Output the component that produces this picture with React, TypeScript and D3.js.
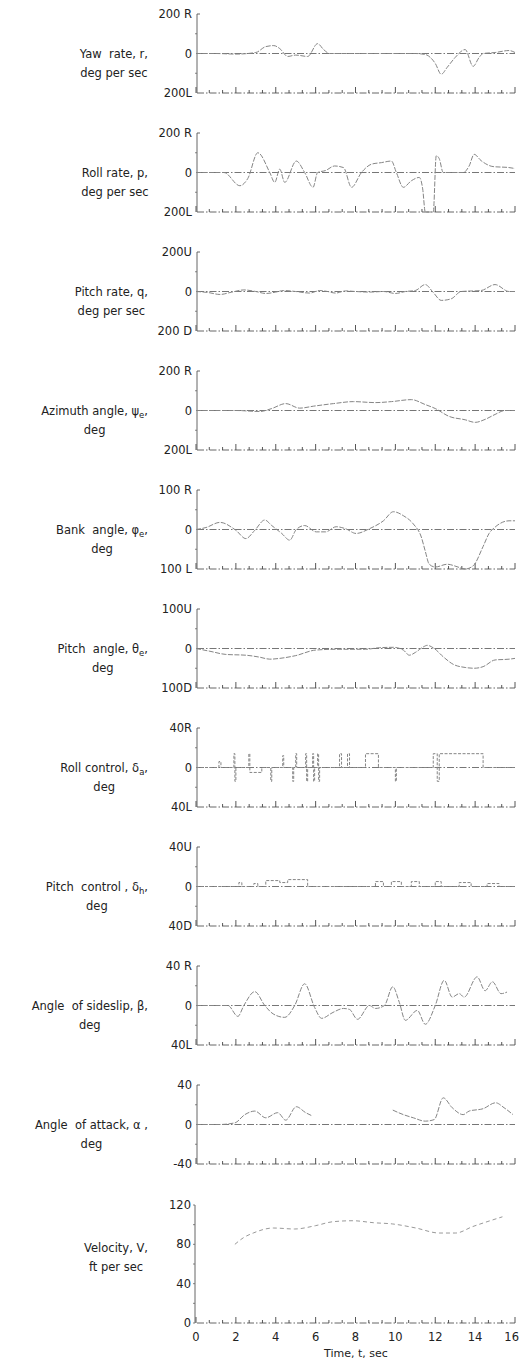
import React, { useEffect, useRef } from "react";
import * as d3 from "d3";

type Pt = [number, number | null];

// Time axis (seconds)
const timeTicks = [0, 2, 4, 6, 8, 10, 12, 14, 16];
const timeLabels = ["0", "2", "4", "6", "8", "10", "12", "14", "16"];

// Yaw rate r, deg/sec
const yawRate: Pt[] = [
  [0, 0], [1, 0], [2, -3], [3, 5], [3.5, 35], [3.9, 40], [4.2, 25], [4.6, -15], [5.0, -8],
  [5.6, -15], [6.1, 50], [6.4, 20], [6.7, 0], [9.5, 0], [11, 0], [11.5, -5], [12, -50],
  [12.3, -105], [12.6, -70], [13.0, -20], [13.5, 20], [13.9, -65], [14.2, -20], [14.4, 0],
  [15, 5], [15.7, 15], [16, 5],
];

// Roll rate p, deg/sec
const rollRate: Pt[] = [
  [0, 0], [1.4, 0], [2.2, -67], [2.6, -30], [3.1, 100], [3.7, 0], [3.95, -50], [4.2, 17],
  [4.45, -50], [5.03, 58], [5.45, 0], [5.87, -75], [6.1, 0], [6.5, 10], [6.95, 33], [7.4, 25],
  [7.8, -75], [8.3, 0], [8.8, 42], [9.3, 50], [9.8, 58], [10.05, 0], [10.4, -75], [10.8, -42],
  [11.2, -25], [11.37, -83], [11.5, -200], [11.9, -200], [12.05, 85], [12.2, 70], [12.4, 0],
  [13.4, 0], [13.7, 33], [13.95, 92], [14.3, 60], [14.9, 30], [15.7, 25], [16, 20],
];

// Pitch rate q, deg/sec
const pitchRate: Pt[] = [
  [0, 0], [0.6, -5], [1.2, -15], [1.8, -3], [2.4, 8], [3.0, 0], [3.5, -10], [4.0, -3], [4.4, 5],
  [5.0, 0], [5.7, -8], [6.2, 5], [6.6, 0], [7.0, -8], [7.5, 3], [8.0, 0], [8.7, -3], [9.4, 0],
  [10.0, -10], [10.5, 0], [11.0, 5], [11.5, 35], [11.9, -5], [12.3, -45], [12.8, -37], [13.3, 0],
  [14.3, 5], [15.0, 35], [15.7, 0], [16, 0],
];

// Azimuth angle psi_e, deg
const azimuth: Pt[] = [
  [0, 0], [2, 0], [3.2, -5], [3.8, 10], [4.5, 35], [5.2, 12], [5.9, 22], [6.9, 35], [7.9, 45],
  [9.0, 40], [9.8, 45], [10.8, 55], [11.5, 30], [12.0, 10], [12.7, -30], [13.5, -47], [14.0, -60],
  [14.5, -45], [15.0, -20], [15.5, 0], [16, 0],
];

// Bank angle phi_e, deg
const bankAngle: Pt[] = [
  [0, 0], [0.5, 5], [1.2, 18], [2.0, -2], [2.5, -23], [2.95, -2], [3.45, 24], [3.8, 10],
  [4.3, -10], [4.7, -27], [5.03, 0], [5.45, 10], [6.03, -6], [6.5, -6], [7.03, 7], [7.5, 2],
  [8.03, -10], [8.7, 2], [9.4, 22], [9.9, 45], [10.4, 35], [10.9, 14], [11.3, -19], [11.5, -55],
  [11.7, -88], [12.0, -95], [12.6, -88], [13.2, -96], [13.5, -100], [13.9, -92], [14.4, -43],
  [14.7, -10], [15.0, 6], [15.7, 22], [16, 22],
];

// Pitch angle theta_e, deg
const pitchAngle: Pt[] = [
  [0, 0], [0.7, -7], [1.5, -15], [2.5, -17], [3.2, -22], [3.7, -27], [4.2, -25], [5.0, -18],
  [6.0, -4], [7.0, -2], [8.5, -2], [9.2, 2], [9.9, 3], [10.4, -4], [10.7, -17], [11.0, -10],
  [11.4, 4], [11.6, 8], [11.95, 0], [12.4, -21], [12.9, -40], [13.5, -48], [13.95, -50],
  [14.4, -46], [15.0, -29], [15.7, -27], [16, -25],
];

// Roll control delta_a, deg (stepped)
const rollControl: Pt[] = [
  [0, 0], [1.15, 6], [1.25, 0], [1.9, 14], [1.95, -14], [2.0, 0], [2.65, 14], [2.7, -5],
  [3.3, 0], [3.75, -14], [3.8, 0], [4.35, 12], [4.4, 0], [4.85, -14], [4.9, 0], [5.0, 14],
  [5.05, 0], [5.5, 14], [5.55, -14], [5.6, 0], [5.85, 14], [5.9, -14], [5.95, 0], [6.1, 14],
  [6.15, -14], [6.2, 0], [7.2, 14], [7.3, 0], [7.6, 14], [7.7, 0], [8.5, 14], [9.15, 0],
  [10.0, -14], [10.05, 0], [11.9, 14], [12.1, -14], [12.2, 14], [14.4, 0], [16, 0],
];

// Pitch control delta_h, deg (stepped)
const pitchControl: Pt[] = [
  [0, 0], [2.15, 4], [2.3, 0], [2.9, 3], [3.1, 0], [3.5, 6], [4.2, 4], [4.6, 7], [5.6, 0],
  [9.0, 5], [9.4, 0], [9.8, 5], [10.3, 0], [10.8, 5], [11.2, 0], [12.0, 5], [12.3, 0],
  [13.2, 4], [13.8, 0], [14.6, 3], [15.2, 0], [16, 0],
];

// Angle of sideslip beta, deg
const sideslip: Pt[] = [
  [0, 0], [1.6, 0], [2.1, -11], [2.4, 0], [2.95, 14], [3.45, 0], [3.87, -8.5], [4.45, -12],
  [4.95, 0], [5.45, 22], [5.95, -2], [6.3, -13], [6.87, -7], [7.4, -3], [7.7, -4], [8.1, -14],
  [8.7, 0], [9.0, -3], [9.45, 0], [9.87, 19], [10.2, 3], [10.5, -15], [11.1, -5], [11.5, -19],
  [12.0, 0], [12.45, 25.5], [12.85, 8.5], [13.2, 12], [13.45, 8.5], [14.1, 29], [14.5, 15],
  [14.87, 24], [15.3, 12], [15.6, 13.6],
];

// Angle of attack alpha, deg (trace lost between about 6 and 9.8 sec)
const angleOfAttack: Pt[] = [
  [0, 0], [1.2, 0], [1.95, 1.7], [2.45, 10], [2.95, 13.6], [3.5, 6.8], [4.1, 12], [4.5, 4.4],
  [5.03, 18], [5.5, 12], [5.8, 9], [7.5, null], [9.87, 14.6], [10.4, 10], [10.9, 6.8],
  [11.5, 3.4], [11.95, 5], [12.4, 27], [12.85, 17], [13.4, 10], [13.7, 13.6], [14.4, 16],
  [15.03, 22], [15.45, 17], [15.9, 10],
];

// Velocity V, ft/sec
const velocity: Pt[] = [
  [1.95, 80], [2.4, 87], [2.87, 91.5], [3.87, 96.6], [4.95, 95.6], [6.0, 99], [6.87, 103],
  [7.87, 104], [8.9, 102], [9.87, 100.7], [11.03, 96.6], [12.2, 91.5], [13.03, 91.5],
  [13.87, 98], [14.6, 103], [15.37, 108],
];

type Seg = { t: string; sub?: boolean };
type Panel = {
  line1: Seg[];
  line2: string;
  topLabel: string;
  midLabel: string;
  bottomLabel: string;
  domain: [number, number];
  data: Pt[];
  stepped?: boolean;
  zeroLine: boolean;
};

const panels: Panel[] = [
  { line1: [{ t: "Yaw  rate, r," }], line2: "deg per sec", topLabel: "200 R", midLabel: "0", bottomLabel: "200L", domain: [-200, 200], data: yawRate, zeroLine: true },
  { line1: [{ t: "Roll rate, p," }], line2: "deg per sec", topLabel: "200 R", midLabel: "0", bottomLabel: "200L", domain: [-200, 200], data: rollRate, zeroLine: true },
  { line1: [{ t: "Pitch rate, q," }], line2: "deg per sec", topLabel: "200U", midLabel: "0", bottomLabel: "200 D", domain: [-200, 200], data: pitchRate, zeroLine: true },
  { line1: [{ t: "Azimuth angle, ψ" }, { t: "e", sub: true }, { t: "," }], line2: "deg", topLabel: "200 R", midLabel: "0", bottomLabel: "200L", domain: [-200, 200], data: azimuth, zeroLine: true },
  { line1: [{ t: "Bank  angle, φ" }, { t: "e", sub: true }, { t: "," }], line2: "deg", topLabel: "100 R", midLabel: "0", bottomLabel: "100 L", domain: [-100, 100], data: bankAngle, zeroLine: true },
  { line1: [{ t: "Pitch  angle, θ" }, { t: "e", sub: true }, { t: "," }], line2: "deg", topLabel: "100U", midLabel: "0", bottomLabel: "100D", domain: [-100, 100], data: pitchAngle, zeroLine: true },
  { line1: [{ t: "Roll control, δ" }, { t: "a", sub: true }, { t: "," }], line2: "deg", topLabel: "40R", midLabel: "0", bottomLabel: "40L", domain: [-40, 40], data: rollControl, stepped: true, zeroLine: true },
  { line1: [{ t: "Pitch  control , δ" }, { t: "h", sub: true }, { t: "," }], line2: "deg", topLabel: "40U", midLabel: "0", bottomLabel: "40D", domain: [-40, 40], data: pitchControl, stepped: true, zeroLine: true },
  { line1: [{ t: "Angle  of sideslip, β," }], line2: "deg", topLabel: "40 R", midLabel: "0", bottomLabel: "40L", domain: [-40, 40], data: sideslip, zeroLine: true },
  { line1: [{ t: "Angle  of attack, α ," }], line2: "deg", topLabel: "40", midLabel: "0", bottomLabel: "-40", domain: [-40, 40], data: angleOfAttack, zeroLine: true },
];

const velocityTicks = [0, 40, 80, 120];

const FONT = "'DejaVu Sans', sans-serif";
const INK = "#222";
const TRACE = "#858585";

export default function App() {
  const ref = useRef<SVGSVGElement>(null);

  useEffect(() => {
    const svg = d3.select(ref.current);
    svg.selectAll("*").remove();
    const g = svg.append("g").attr("font-family", FONT).attr("fill", INK);

    const axisX = 197;
    const x = d3.scaleLinear().domain([0, 16]).range([196, 515]);
    const tickTimes = d3.range(0, 16.001, 2 / 3);
    const labelRight = 148;

    const drawBottomAxis = (yb: number) => {
      g.append("line")
        .attr("x1", axisX).attr("x2", x(16)).attr("y1", yb).attr("y2", yb)
        .attr("stroke", "#555").attr("stroke-width", 0.9)
        .attr("stroke-dasharray", "7 2 1.5 2");
      g.selectAll(null).data(tickTimes).enter().append("line")
        .attr("x1", (d) => x(d)).attr("x2", (d) => x(d))
        .attr("y1", yb)
        .attr("y2", (d, i) => yb - (i % 3 === 0 ? 6 : 3))
        .attr("stroke", "#444").attr("stroke-width", 0.9);
    };

    const drawLeftLabel = (line1: Seg[], line2: string, y1: number) => {
      const t1 = g.append("text").attr("x", labelRight).attr("y", y1)
        .attr("text-anchor", "end").attr("font-size", 11.5);
      line1.forEach((s) => {
        const ts = t1.append("tspan").text(s.t);
        if (s.sub) ts.attr("font-size", 8.5).attr("baseline-shift", "-3");
      });
      t1.attr("xml:space", "preserve").style("white-space", "pre");
      const w = (t1.node() as SVGTextElement).getComputedTextLength();
      g.append("text").attr("x", labelRight - w / 2).attr("y", y1 + 19)
        .attr("text-anchor", "middle").attr("font-size", 11.5).text(line2);
    };

    const line = d3.line<Pt>()
      .defined((d) => d[1] !== null)
      .x((d) => x(d[0]));

    panels.forEach((p, i) => {
      const top = 14 + 119 * i;
      const bottom = top + 79;
      const y = d3.scaleLinear().domain(p.domain).range([bottom, top]);
      const mid = y(0);

      // vertical axis with small marks
      g.append("line").attr("x1", axisX).attr("x2", axisX).attr("y1", top).attr("y2", bottom)
        .attr("stroke", "#555").attr("stroke-width", 0.9);
      g.append("line").attr("x1", axisX).attr("x2", axisX + 3).attr("y1", top).attr("y2", top)
        .attr("stroke", "#555").attr("stroke-width", 0.9);
      [p.domain[0] / 2, p.domain[1] / 2].forEach((v) => {
        g.append("line").attr("x1", axisX - 2).attr("x2", axisX).attr("y1", y(v)).attr("y2", y(v))
          .attr("stroke", "#666").attr("stroke-width", 0.8);
      });

      if (p.zeroLine) {
        g.append("line").attr("x1", axisX).attr("x2", x(16)).attr("y1", mid).attr("y2", mid)
          .attr("stroke", "#666").attr("stroke-width", 0.9)
          .attr("stroke-dasharray", "7 2 1.5 2");
      }
      drawBottomAxis(bottom);

      // scale labels
      [[p.topLabel, top], [p.midLabel, mid], [p.bottomLabel, bottom]].forEach(([s, yy]) => {
        g.append("text").attr("x", 192).attr("y", (yy as number) + 4)
          .attr("text-anchor", "end").attr("font-size", 11.5)
          .style("white-space", "pre").text(s as string);
      });

      drawLeftLabel(p.line1, p.line2, mid + 4);

      // trace
      const ln = line.y((d) => y(d[1] as number))
        .curve(p.stepped ? d3.curveStepAfter : d3.curveMonotoneX);
      g.append("path").attr("d", ln(p.data) as string)
        .attr("fill", "none").attr("stroke", TRACE).attr("stroke-width", 1)
        .attr("stroke-dasharray", p.stepped ? "3 1.5" : "5 1.5");
    });

    // Velocity panel
    const vTop = 1205;
    const vBottom = 1323;
    const yv = d3.scaleLinear().domain([0, 120]).range([vBottom, vTop]);
    g.append("line").attr("x1", axisX - 2).attr("x2", axisX - 2).attr("y1", vTop).attr("y2", vBottom)
      .attr("stroke", "#555").attr("stroke-width", 0.9);
    d3.range(0, 121, 20).forEach((v) => {
      g.append("line").attr("x1", axisX - 4).attr("x2", axisX - 2).attr("y1", yv(v)).attr("y2", yv(v))
        .attr("stroke", "#666").attr("stroke-width", 0.8);
    });
    drawBottomAxis(vBottom);
    velocityTicks.forEach((v) => {
      g.append("text").attr("x", 191).attr("y", yv(v) + 4)
        .attr("text-anchor", "end").attr("font-size", 11.5).text(String(v));
    });
    drawLeftLabel([{ t: "Velocity, V," }], "ft per sec", 1252);
    const vl = d3.line<Pt>().defined((d) => d[1] !== null)
      .x((d) => x(d[0])).y((d) => yv(d[1] as number)).curve(d3.curveMonotoneX);
    g.append("path").attr("d", vl(velocity) as string)
      .attr("fill", "none").attr("stroke", "#999").attr("stroke-width", 1)
      .attr("stroke-dasharray", "4 3");

    // time labels (last one kept inside the frame)
    timeTicks.forEach((t, i) => {
      const last = i === timeTicks.length - 1;
      g.append("text").attr("x", last ? 519 : x(t)).attr("y", 1341)
        .attr("text-anchor", last ? "end" : "middle").attr("font-size", 11.5).text(timeLabels[i]);
    });
    g.append("text").attr("x", 356).attr("y", 1357)
      .attr("text-anchor", "middle").attr("font-size", 11).text("Time, t, sec");
  }, []);

  return (
    <svg
      ref={ref}
      width={520}
      height={1365}
      style={{ position: "absolute", left: 0, top: 0, background: "#fff" }}
    />
  );
}
